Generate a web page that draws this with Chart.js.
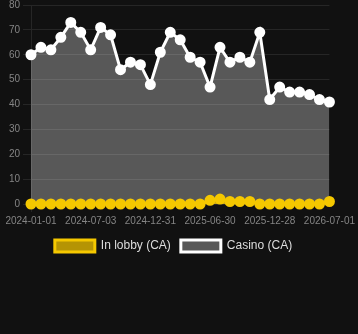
<!DOCTYPE html>
<html>
<head>
<meta charset="utf-8">
<script src="https://cdn.jsdelivr.net/npm/chart.js@4/dist/chart.umd.min.js"></script>
<style>
html,body{margin:0;padding:0;background:#111111;overflow:hidden;}
#wrap{width:358px;height:266px;position:relative;margin-top:-4px;}
</style>
</head>
<body>
<div id="wrap"><canvas id="c"></canvas></div>
<script>
const categories = [
 "2024-01-01","2024-01-31","2024-03-02","2024-04-02","2024-05-02","2024-06-02",
 "2024-07-03","2024-08-02","2024-09-01","2024-10-02","2024-11-01","2024-12-01",
 "2024-12-31","2025-01-30","2025-03-01","2025-03-31","2025-04-30","2025-05-31",
 "2025-06-30","2025-07-30","2025-08-29","2025-09-28","2025-10-28","2025-11-27",
 "2025-12-28","2026-01-28","2026-02-28","2026-03-31","2026-04-30","2026-05-31",
 "2026-07-01"
];
const tickLabels = ["2024-01-01","2024-07-03","2024-12-31","2025-06-30","2025-12-28","2026-07-01"];
const lobbyValues = [0,0,0,0,0,0,0,0,0,0,0,0,0,0,0,0,0,0,1.5,2,1,1,1,0,0,0,0,0,0,0,1];
const casinoValues = [60,63,62,67,73,69,62,71,68,54,57,56,48,61,69,66,59,57,47,63,57,59,57,69,42,47,45,45,44,42,41];
const yTicks = [0,10,20,30,40,50,60,70,80];

const FONT = 'Liberation Sans, Arial, sans-serif';
const GRID = '#262626';
const TICK = '#858585';

const legendShift = {
  id: 'legendShift',
  afterLayout(chart) {
    if (chart.legend) { chart.legend.left -= 5; chart.legend.right -= 5; }
  }
};

new Chart(document.getElementById('c'), {
  type: 'line',
  plugins: [legendShift],
  data: {
    labels: categories,
    datasets: [
      {
        label: 'In lobby (CA)',
        data: lobbyValues,
        borderColor: '#f5c800',
        backgroundColor: 'rgba(245,200,0,0.72)',
        pointBackgroundColor: '#f5c800',
        pointBorderColor: '#f5c800',
        borderWidth: 3,
        pointRadius: 4.5,
        pointBorderWidth: 2,
        fill: 'origin',
        tension: 0,
        clip: false
      },
      {
        label: 'Casino (CA)',
        data: casinoValues,
        borderColor: '#ffffff',
        backgroundColor: 'rgba(255,255,255,0.3)',
        pointBackgroundColor: '#ffffff',
        pointBorderColor: '#ffffff',
        borderWidth: 3,
        pointRadius: 4.5,
        pointBorderWidth: 2,
        fill: 'origin',
        tension: 0,
        clip: false
      }
    ]
  },
  options: {
    responsive: true,
    maintainAspectRatio: false,
    animation: false,
    layout: { padding: { left: 0, right: 1, top: 0, bottom: 0 } },
    plugins: {
      legend: {
        position: 'bottom',
        labels: {
          color: '#dddddd',
          font: { family: FONT, size: 12 },
          boxWidth: 40,
          boxHeight: 12
        }
      },
      tooltip: { enabled: false }
    },
    scales: {
      x: {
        grid: {
          color: (ctx) => (ctx.index % 6 === 0 ? GRID : 'rgba(0,0,0,0)'),
          tickColor: (ctx) => (ctx.index % 6 === 0 ? GRID : 'rgba(0,0,0,0)')
        },
        border: { color: GRID },
        ticks: {
          color: TICK,
          font: { family: FONT, size: 10 },
          autoSkip: false,
          maxRotation: 0,
          callback: function(v, i) { return (i % 6 === 0) ? tickLabels[i / 6] : null; }
        }
      },
      y: {
        min: 0,
        max: 80,
        afterFit: (s) => { s.width = 31; },
        grid: { color: GRID, tickColor: GRID },
        border: { color: GRID },
        ticks: {
          color: TICK,
          stepSize: 10,
          font: { family: FONT, size: 10 },
          callback: function(v) { return yTicks.includes(v) ? String(v) : null; }
        }
      }
    }
  }
});
</script>
</body>
</html>
